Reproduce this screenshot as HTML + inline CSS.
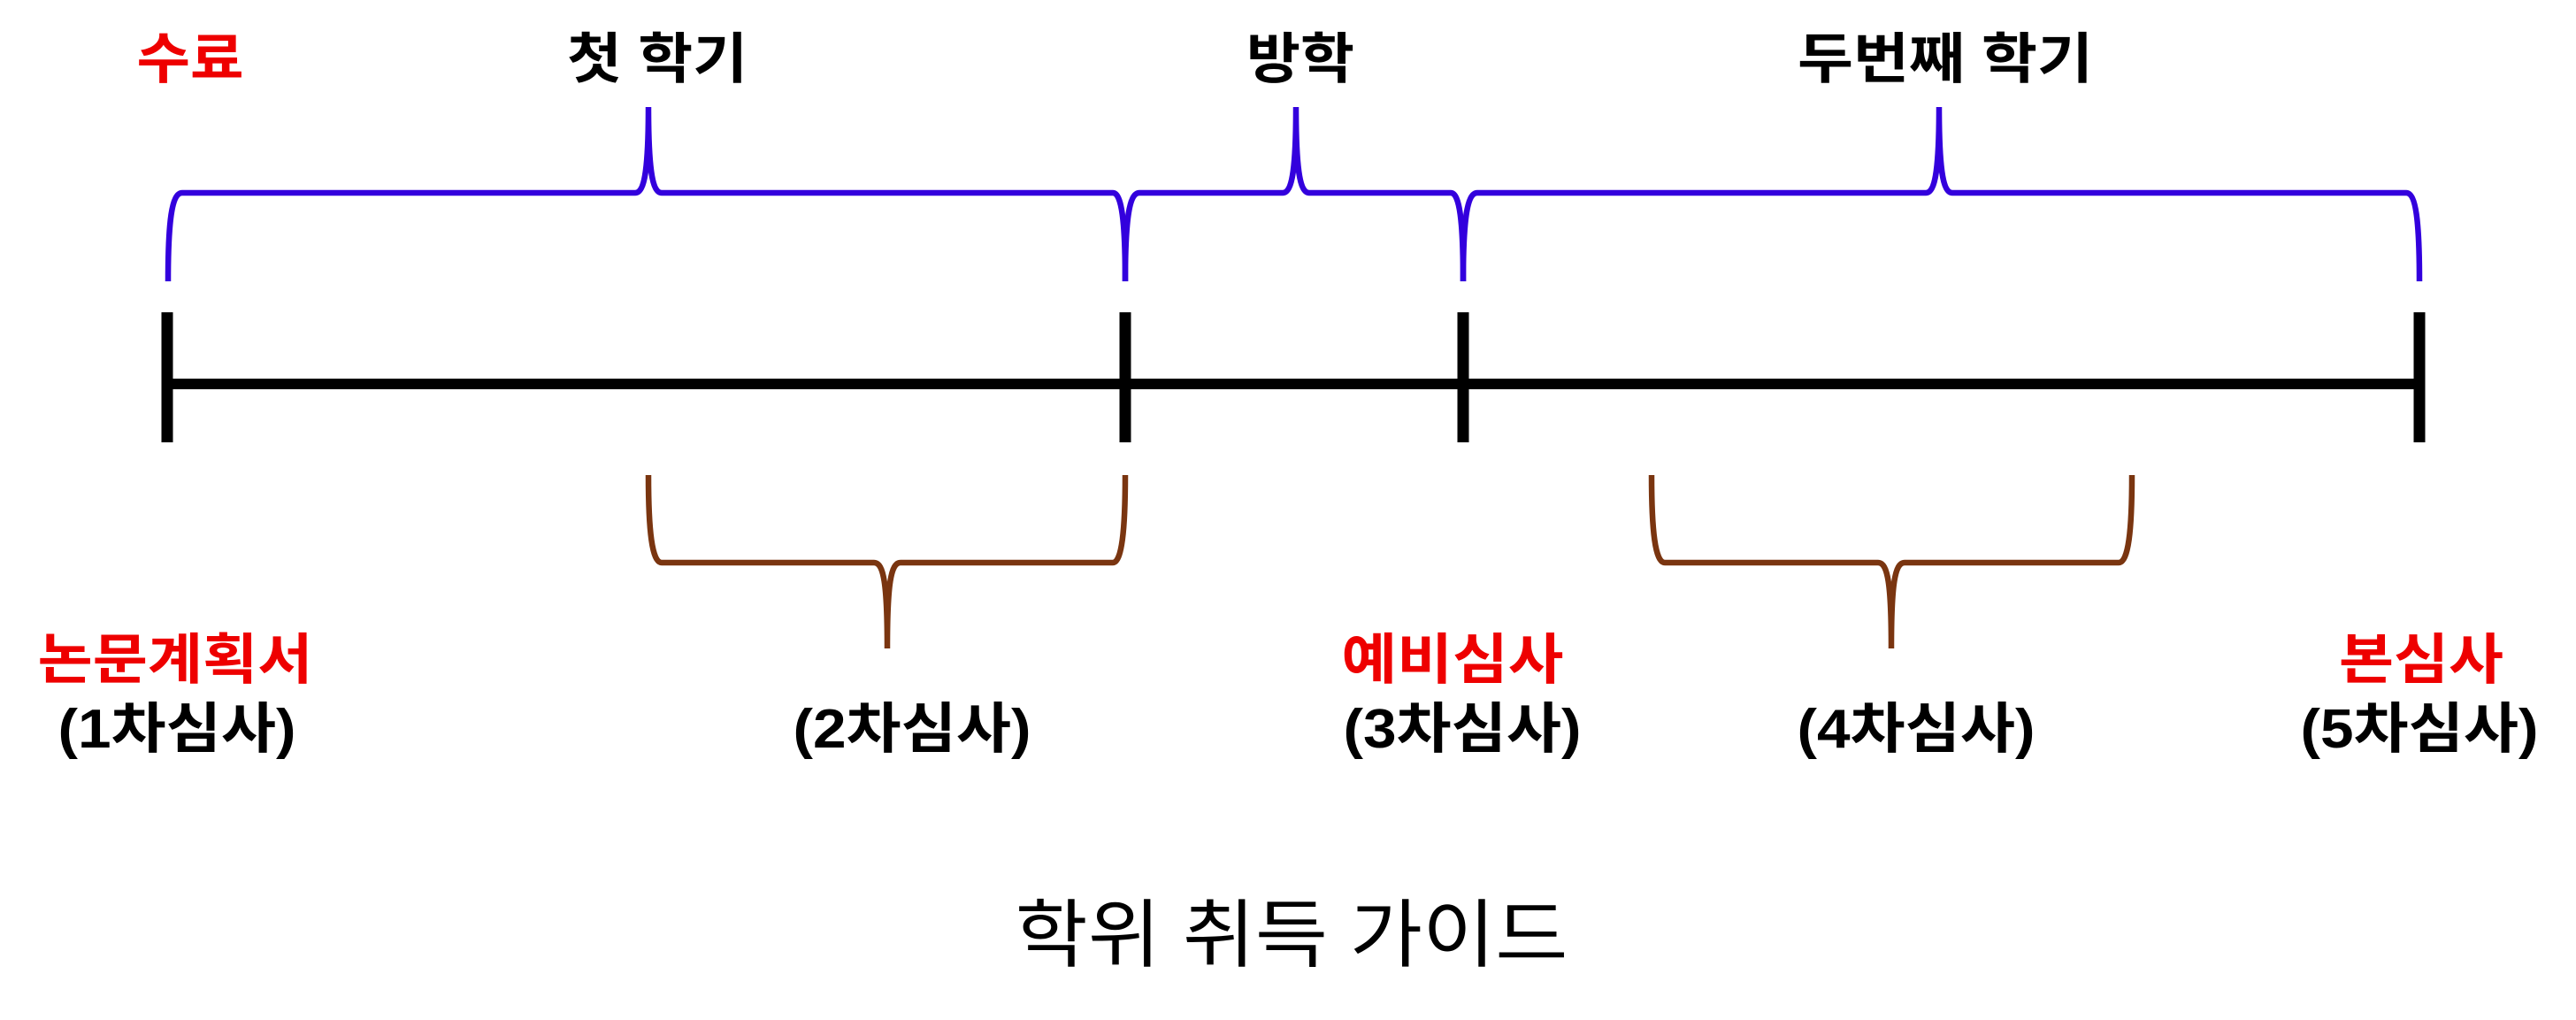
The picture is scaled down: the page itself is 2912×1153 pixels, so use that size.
<!DOCTYPE html>
<html><head><meta charset="utf-8"><style>html,body{margin:0;padding:0;background:#fff}svg{display:block}</style></head>
<body>
<svg width="2912" height="1153" viewBox="0 0 2912 1153" xmlns="http://www.w3.org/2000/svg" font-family="'Liberation Sans','Noto Sans CJK KR',sans-serif">
<g stroke="#000" stroke-width="12" fill="none">
<line x1="189" y1="434" x2="2735" y2="434"/>
<line x1="189" y1="353" x2="189" y2="500" stroke-width="13"/>
<line x1="1272" y1="353" x2="1272" y2="500" stroke-width="13"/>
<line x1="1654" y1="353" x2="1654" y2="500" stroke-width="13"/>
<line x1="2735" y1="353" x2="2735" y2="500" stroke-width="13"/>
</g>
<g stroke="#3300dd" stroke-width="6.5" fill="none">
<path d="M190,318 C190,250 194,218 206,218 L718,218 C729,218 733,190 733,121 C733,190 737,218 748,218 L1258,218 C1268,218 1272,250 1272,318"/>
<path d="M1272,318 C1272,250 1276,218 1288,218 L1450,218 C1461,218 1465,190 1465,121 C1465,190 1469,218 1480,218 L1640,218 C1650,218 1654,250 1654,318"/>
<path d="M1654,318 C1654,250 1658,218 1670,218 L2177,218 C2188,218 2192,190 2192,121 C2192,190 2196,218 2207,218 L2720,218 C2731,218 2735,250 2735,318"/>
</g>
<g stroke="#7a3510" stroke-width="6.5" fill="none">
<path d="M733,537 C733,600 737,636 748,636 L988,636 C999,636 1003,660 1003,733 C1003,660 1007,636 1018,636 L1258,636 C1268,636 1272,600 1272,537"/>
<path d="M1867,537 C1867,600 1871,636 1882,636 L2123,636 C2134,636 2138,660 2138,733 C2138,660 2142,636 2153,636 L2395,636 C2406,636 2410,600 2410,537"/>
</g>
<g font-weight="bold" font-size="62" text-anchor="middle">
<text x="215" y="88" fill="#ee0000" textLength="121" lengthAdjust="spacingAndGlyphs">수료</text>
<text x="743" y="88" fill="#000" textLength="204" lengthAdjust="spacingAndGlyphs">첫 학기</text>
<text x="1470" y="88" fill="#000" textLength="122" lengthAdjust="spacingAndGlyphs">방학</text>
<text x="2199" y="88" fill="#000" textLength="334" lengthAdjust="spacingAndGlyphs">두번째 학기</text>
<text x="198" y="767" fill="#ee0000" textLength="311" lengthAdjust="spacingAndGlyphs">논문계획서</text>
<text x="1642" y="767" fill="#ee0000" textLength="251" lengthAdjust="spacingAndGlyphs">예비심사</text>
<text x="2737" y="767" fill="#ee0000" textLength="186" lengthAdjust="spacingAndGlyphs">본심사</text>
<text x="200" y="845" fill="#000" textLength="269" lengthAdjust="spacingAndGlyphs">(1차심사)</text>
<text x="1031" y="845" fill="#000" textLength="269" lengthAdjust="spacingAndGlyphs">(2차심사)</text>
<text x="1653" y="845" fill="#000" textLength="269" lengthAdjust="spacingAndGlyphs">(3차심사)</text>
<text x="2166" y="845" fill="#000" textLength="269" lengthAdjust="spacingAndGlyphs">(4차심사)</text>
<text x="2735" y="845" fill="#000" textLength="269" lengthAdjust="spacingAndGlyphs">(5차심사)</text>
</g>
<text x="1460" y="1086" font-size="84" text-anchor="middle" fill="#000" textLength="625" lengthAdjust="spacingAndGlyphs">학위 취득 가이드</text>
</svg>
</body></html>
